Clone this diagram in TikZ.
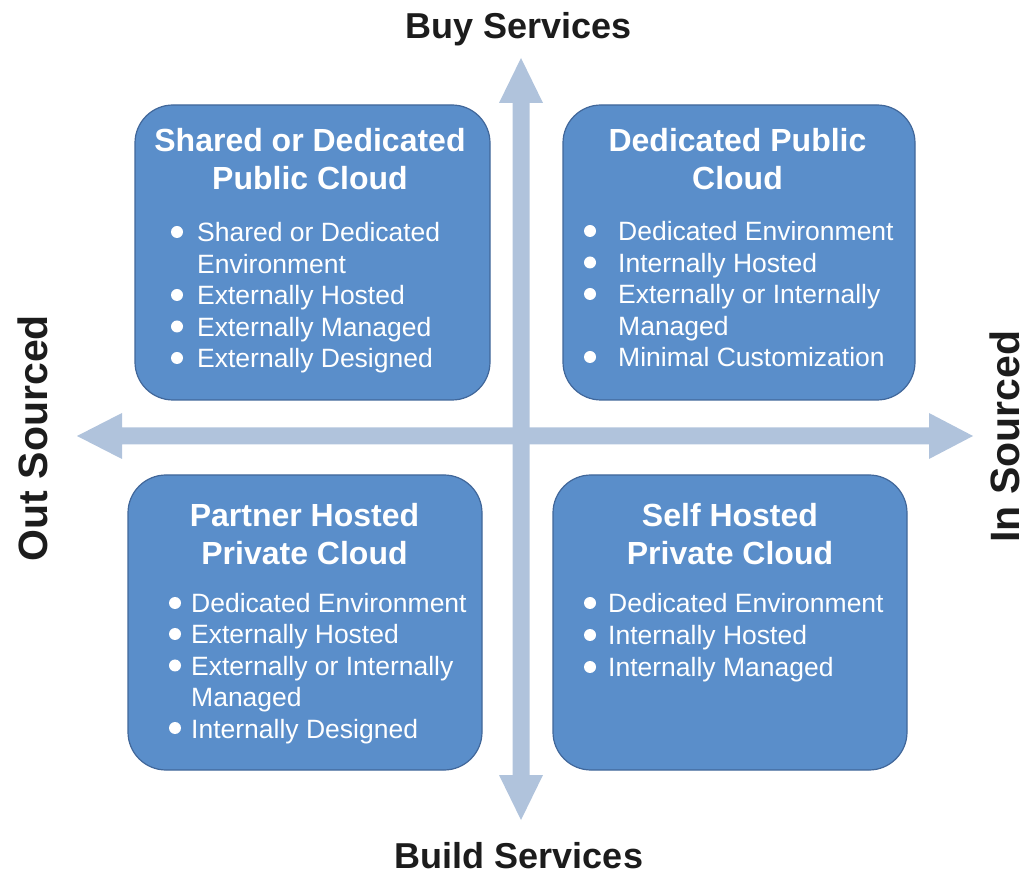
\documentclass[tikz,border=0pt]{standalone}
\usepackage{fontspec}
\setmainfont{Liberation Sans}
\definecolor{boxblue}{HTML}{5A8ECA}
\definecolor{boxline}{HTML}{41679A}
\definecolor{axisblue}{HTML}{B0C3DC}
\definecolor{labelgray}{HTML}{1C1C1C}
\tikzset{
  quad/.style={draw=boxline, line width=1.2pt, fill=boxblue, rounded corners=38pt},
  title/.style={text=white, font=\fontsize{32}{38}\selectfont\bfseries, inner sep=0pt, anchor=base},
  item/.style={text=white, font=\fontsize{26.5}{32}\selectfont, inner sep=0pt, anchor=base west},
  dot/.style={fill=white, circle, inner sep=0pt, minimum size=12pt},
  axis/.style={fill=axisblue},
  axislabel/.style={text=labelgray, font=\fontsize{36}{43}\selectfont\bfseries, inner sep=0pt, anchor=base},
  sidelabel/.style={axislabel, font=\fontsize{41}{48}\selectfont\bfseries, rotate=90}
}

\begin{document}
\begin{tikzpicture}[x=1pt,y=1pt]
\useasboundingbox (0,0) rectangle (1028,876);

% axes
\fill[axis] (512.5,101) -- (512.5,773) -- (499,773) -- (521,818) -- (543,773) -- (529.5,773)
  -- (529.5,101) -- (543,101) -- (521,56) -- (499,101) -- cycle;
\fill[axis] (122,431.5) -- (929,431.5) -- (929,417) -- (973,440) -- (929,463) -- (929,448.5)
  -- (122,448.5) -- (122,463) -- (77,440) -- (122,417) -- cycle;

\node[axislabel] (buy) at (519,837) {Buy Services};
\node[axislabel] (build) at (519,8) {Build Services};
\node[sidelabel] (out) at (47,438) {Out Sourced};
\node[sidelabel] (in) at (1019,439.5) {In Sourced};

% quadrants
\node[quad, minimum width=355pt, minimum height=295pt] (shared) at (312.5,623.5) {};
\node[quad, minimum width=352pt, minimum height=295pt] (dedicated) at (739,623.5) {};
\node[quad, minimum width=354pt, minimum height=295pt] (partner) at (305,253.5) {};
\node[quad, minimum width=354pt, minimum height=295pt] (self) at (730,253.5) {};

% top left
\node[title] (sharedt1) at (310,724) {Shared or Dedicated};
\node[title] (sharedt2) at (310,686) {Public Cloud};
\foreach \y/\t [count=\i] in {634/Shared or Dedicated, 602.5/Environment,
  571/Externally Hosted, 539.5/Externally Managed, 508/Externally Designed}
  \node[item] (shareditem\i) at (197,\y) {\t};
\foreach \y [count=\i] in {644,581,549.5,518}
  \node[dot] (shareddot\i) at (177,\y) {};

% top right
\node[title] (dedicatedt1) at (737.5,724) {Dedicated Public};
\node[title] (dedicatedt2) at (737.5,686) {Cloud};
\foreach \y/\t [count=\i] in {635/Dedicated Environment, 603.5/Internally Hosted,
  572/Externally or Internally, 540.5/Managed, 509/Minimal Customization}
  \node[item] (dedicateditem\i) at (618,\y) {\t};
\foreach \y [count=\i] in {645,613.5,582,519}
  \node[dot] (dedicateddot\i) at (590,\y) {};

% bottom left
\node[title] (partnert1) at (304.5,349) {Partner Hosted};
\node[title] (partnert2) at (304.5,311) {Private Cloud};
\foreach \y/\t [count=\i] in {263/Dedicated Environment, 232/Externally Hosted,
  200.5/Externally or Internally, 169/Managed, 138/Internally Designed}
  \node[item] (partneritem\i) at (191,\y) {\t};
\foreach \y [count=\i] in {273,242,210.5,148}
  \node[dot] (partnerdot\i) at (175,\y) {};

% bottom right
\node[title] (selft1) at (730,349) {Self Hosted};
\node[title] (selft2) at (730,311) {Private Cloud};
\foreach \y/\t [count=\i] in {263/Dedicated Environment, 231/Internally Hosted,
  199/Internally Managed}
  \node[item] (selfitem\i) at (608,\y) {\t};
\foreach \y [count=\i] in {273,241,209}
  \node[dot] (selfdot\i) at (590,\y) {};
\end{tikzpicture}
\end{document}
